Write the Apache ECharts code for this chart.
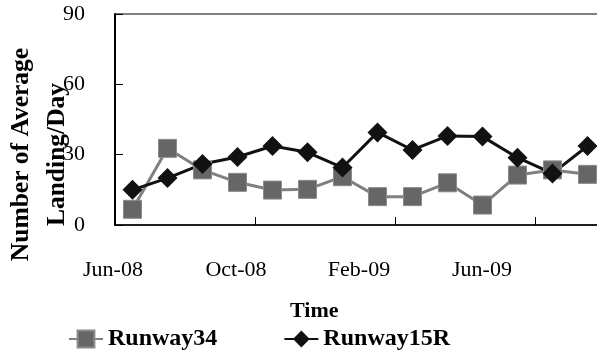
<!DOCTYPE html>
<html><head><meta charset="utf-8">
<script src="https://cdn.jsdelivr.net/npm/echarts@6/dist/echarts.min.js"></script>
<style>html,body{margin:0;padding:0;background:#fff}#c{width:597px;height:361px}</style>
</head><body><div id="c"></div>
<script>
var months = ['Jun-08','Jul-08','Aug-08','Sep-08','Oct-08','Nov-08','Dec-08','Jan-09','Feb-09','Mar-09','Apr-09','May-09','Jun-09','Jul-09'];
var runway34 = [6.7, 32.7, 23.5, 18.2, 14.9, 15.2, 20.6, 12.1, 12.1, 18, 8.5, 21.3, 23.5, 21.6];
var runway15R = [15, 20, 26, 29, 33.7, 31, 24.5, 39.5, 32, 38, 37.7, 28.7, 22, 33.7];
var tickLabels = ['Jun-08','Oct-08','Feb-09','Jun-09'];
var yTicks = [0, 30, 60, 90];

var serif = 'Liberation Serif';
var chart = echarts.init(document.getElementById('c'), null, {renderer:'canvas'});
chart.setOption({
  animation: false,
  backgroundColor: '#fff',
  title: {text: 'Time', left: 290, top: 300, padding: 0,
    textStyle: {fontFamily: serif, fontWeight: 'bold', fontSize: 22, color: '#000'}},
  legend: {
    left: 68, top: 327, padding: 0, itemWidth: 34, itemHeight: 21, itemGap: 66,
    textStyle: {fontFamily: serif, fontWeight: 'bold', fontSize: 24, color: '#000'},
    data: ['Runway34', 'Runway15R']
  },
  grid: [
    {left: 115, top: 14, right: -8, bottom: 136, show: true, borderColor: '#000', borderWidth: 1, containLabel: false, outerBoundsMode: 'none'},
    {left: 113, width: 369, top: 14, bottom: 136, show: false, containLabel: false, outerBoundsMode: 'none'}
  ],
  xAxis: [
    {type: 'category', gridIndex: 0, data: months, boundaryGap: true,
     axisLine: {show: true, lineStyle: {color: '#000', width: 1.5}},
     axisTick: {show: true, inside: true, length: 8, interval: 3, lineStyle: {color: '#000'}},
     axisLabel: {show: false}, splitLine: {show: false}},
    {type: 'value', gridIndex: 1, min: 0, max: tickLabels.length - 1, interval: 1,
     axisLine: {show: false}, axisTick: {show: false}, splitLine: {show: false},
     axisLabel: {show: true, margin: 34, fontFamily: serif, fontSize: 22, color: '#000',
       formatter: function (v) { return tickLabels[v] || ''; }}}
  ],
  yAxis: [
    {type: 'value', gridIndex: 0, min: yTicks[0], max: yTicks[yTicks.length - 1], interval: 30,
     axisLine: {show: true, lineStyle: {color: '#000', width: 2}},
     axisTick: {show: true, inside: true, length: 8, lineStyle: {color: '#000'}},
     axisLabel: {margin: 30, fontFamily: serif, fontSize: 22, color: '#000'},
     splitLine: {show: false},
     name: 'Number of Average\nLanding/Day', nameLocation: 'middle', nameRotate: 90, nameGap: 40,
     nameMoveOverlap: false,
     nameTextStyle: {fontFamily: serif, fontWeight: 'bold', fontSize: 25.5, lineHeight: 36, color: '#000', padding: [0, 70, 0, 0]}},
    {type: 'value', gridIndex: 1, show: false, min: 0, max: 1}
  ],
  series: [
    {name: 'Runway34', type: 'line', xAxisIndex: 0, yAxisIndex: 0, data: runway34,
     symbol: 'rect', symbolSize: 18,
     lineStyle: {color: '#808080', width: 3},
     itemStyle: {color: '#666666', borderColor: '#8a8a8a', borderWidth: 1}},
    {name: 'Runway15R', type: 'line', xAxisIndex: 0, yAxisIndex: 0, data: runway15R,
     symbol: 'diamond', symbolSize: 20,
     lineStyle: {color: '#111111', width: 3},
     itemStyle: {color: '#111111'}}
  ]
});
</script></body></html>
